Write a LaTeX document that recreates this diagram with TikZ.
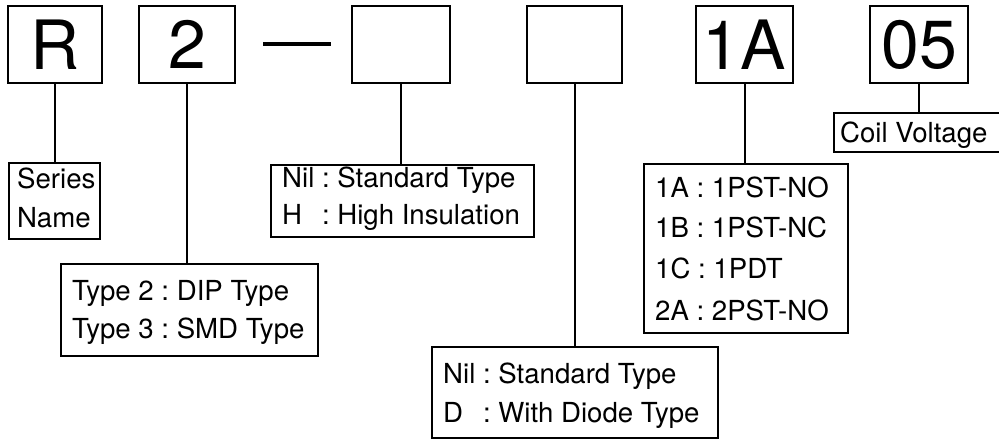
\documentclass[tikz,border=0pt]{standalone}
\usepackage{fontspec}
\setmainfont{TeX Gyre Heros}
\frenchspacing
\begin{document}
\begin{tikzpicture}[x=1pt,y=-1pt,
  topbox/.style={draw,line width=1.9pt,minimum width=#1,minimum height=77pt,inner sep=0pt,font=\fontsize{68}{68}\selectfont},
  lbox/.style={draw,line width=1.7pt,inner sep=0pt},
  lt/.style={font=\fontsize{27.6}{27.6}\selectfont,inner sep=0pt,anchor=base west},
  conn/.style={line width=2pt}]
\useasboundingbox (0,0) rectangle (999,440);
% top code boxes
\node[topbox=94pt] (bR) at (55,44.5) {R};
\node[topbox=96pt] (b2) at (187,44.5) {2};
\coordinate (d1) at (263,44);
\coordinate (d2) at (331,44);
\draw[line width=4.5pt] (d1) -- (d2);
\node[topbox=98pt] (b3) at (401,44.5) {};
\node[topbox=95pt] (b4) at (574.5,44.5) {};
\node[topbox=97pt] (b1A) at (744.5,44.5) {1A};
\node[topbox=98pt] (b05) at (919,44.5) {05};
% label boxes
\node[lbox,minimum width=91pt,minimum height=76pt] (series) at (54.5,201) {};
\node[lt] (series1) at (17,188) {Series};
\node[lt] (series2) at (17,227) {Name};
\node[lbox,minimum width=257pt,minimum height=92pt] (type) at (189.5,310) {};
\node[lt] (type1) at (72,300) {Type 2 : DIP Type};
\node[lt] (type2) at (72,338) {Type 3 : SMD Type};
\node[lbox,minimum width=263pt,minimum height=72pt] (ins) at (402.5,201) {};
\node[lt] (ins1) at (282,187) {Nil : Standard Type};
\node[lt] (ins2) at (282,224) {\rlap{H}\phantom{Nil} : High Insulation};
\node[lbox,minimum width=204pt,minimum height=169pt] (opts) at (746,248.5) {};
\node[lt] (opt1) at (655,197) {1A : 1PST-NO};
\node[lt] (opt2) at (655,237) {1B : 1PST-NC};
\node[lt] (opt3) at (655,278) {1C : 1PDT};
\node[lt] (opt4) at (655,320) {2A : 2PST-NO};
\node[lbox,minimum width=286pt,minimum height=91pt] (diode) at (575,392.5) {};
\node[lt] (diode1) at (443,383) {Nil : Standard Type};
\node[lt] (diode2) at (443,422) {\rlap{D}\phantom{Nil} : With Diode Type};
\node[lbox,minimum width=170pt,minimum height=39pt] (coil) at (919,132.5) {};
\node[lt] (coil1) at (840,142) {Coil Voltage};
% connectors
\draw[conn] (bR.south) -- (bR.south |- series.north);
\draw[conn] (b2.south) -- (b2.south |- type.north);
\draw[conn] (b3.south) -- (b3.south |- ins.north);
\draw[conn] (b4.south) -- (b4.south |- diode.north);
\draw[conn] (b1A.south) -- (b1A.south |- opts.north);
\draw[conn] (b05.south) -- (b05.south |- coil.north);
\end{tikzpicture}
\end{document}
